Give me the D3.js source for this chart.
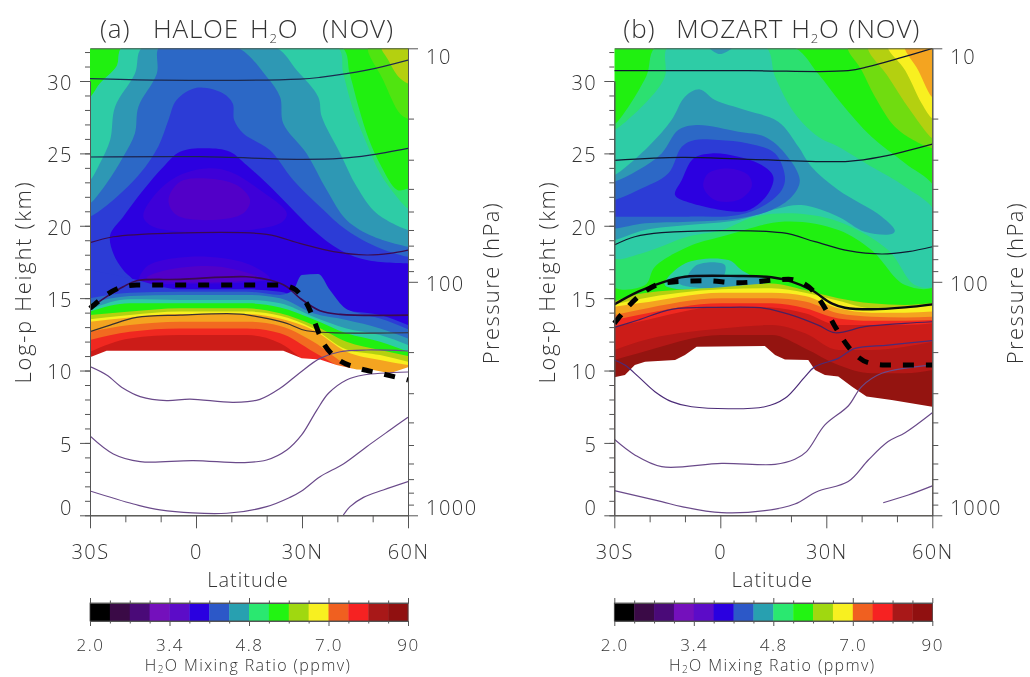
<!DOCTYPE html>
<html>
<head>
<meta charset="utf-8">
<script src="https://cdn.jsdelivr.net/npm/d3@7"></script>
<style>
  body { margin: 0; background: #fff; }
  svg { display: block; filter: blur(0.45px); }
  text { font-family: "Open Sans", sans-serif; font-weight: 300; fill: #333; }
  .axis path, .axis line { stroke: #555; stroke-width: 1; }
  .axis text { font-size: 20px; fill: #333; letter-spacing: 1.5px; }
</style>
</head>
<body>
<div id="chart"></div>
<script>
// Log-p heights (km) on the left, pressure (hPa) on the right, latitude along the bottom
const heightMajor = [0, 5, 10, 15, 20, 25, 30];
const heightMinor = d3.range(0, 33);
const pressureMajor = [10, 100, 1000];
const pressureMinor = [20, 30, 40, 50, 60, 70, 80, 90, 200, 300, 400, 500, 600, 700, 800, 900];
const latMajor = [-30, 0, 30, 60];
const latMinor = [-20, -10, 10, 20, 40, 50];
const latLabels = ["30S", "0", "30N", "60N"];

// colorbar
const barColors = ["#000000", "#3a0a46", "#4a0a78", "#7410bc", "#5c0cc8", "#2a00e0", "#2c58c8", "#28a0b0",
  "#2ae870", "#22f412", "#a0d810", "#f8f020", "#f06020", "#f62222", "#a81818", "#901010"];
const barLabels = ["2.0", "3.4", "4.8", "7.0", "90"];
const barLabelSteps = [0, 4, 8, 12, 16];

// fill colours of the contour levels
const levels = {
  green: "#20f010", mint: "#2ce070", sea: "#2ecca6", teal: "#2e98b4", blue2: "#2c68c6", blue: "#2c3cd6",
  indigo: "#2c00e0", purple1: "#3e00d8", purple2: "#5200c8", lime: "#70dc10", lime2: "#50e410", yg: "#b4d010",
  yellow: "#f8f020", amber: "#f4a420", orange: "#f26a20", red: "#f02820", red2: "#cc1c18",
  red3: "#b41816", red4: "#941410"
};

/* ---- (a) HALOE, closed regions in [lat, km] ---- */
const aMint = [[-20.6,32.4],[-22.5,31],[-27.2,29.83],[-30,28.9],[-31,28.9],[-31,14],[61,14],[61,22.47],[57,22.47],[52.5,24.08],[49,25.92],[46,28.22],[43.5,30.5],[41,32.4]];
const aSea = [[-20.6,32.4],[-22.5,31],[-27.2,29.83],[-30,28.9],[-31,28.9],[-31,14],[61,14],[61,21.2],[60,21.2],[56.8,22],[52.1,23.62],[48.3,25.69],[44.5,27.99],[41.7,30.5],[39.8,32.4]];
const aLime = [[48.8,32.4],[53,30.06],[57.7,27.76],[60,27.4],[61,27.4],[61,32.4]];
const aYg = [[52.5,32.4],[54.4,31.45],[57.3,30.3],[60,29.83],[61,29.8],[61,32.4]];
const aTeal = [[-14.9,32.4],[-17.3,30.5],[-22.9,28.22],[-24.3,25.92],[-27.2,24.31],[-30,23.16],[-31,23.16],[-31,14],[61,14],[61,19.71],[60,19.71],[51.1,20.86],[45.5,22.7],[40.8,25],[35.6,27.53],[34.6,28.9],[28.5,30.75],[21.9,32.4]];
const aBlue2 = [[-10.2,32.4],[-11.1,30.5],[-16.3,28.22],[-17.3,26.38],[-20.6,24.77],[-25.3,22.93],[-30,21.55],[-31,21.55],[-31,14],[61,14],[61,18.55],[60,18.55],[50.2,19.25],[42.6,20.4],[37,22.47],[31.3,25],[24.7,27.07],[23.8,28.9],[20,30.3],[11,32.4]];
const aBlue = [[0.2,29.53],[-5.5,28.68],[-7.8,27.3],[-10.7,25.46],[-15.8,23.62],[-23.4,21.78],[-30,20.63],[-31,20.63],[-31,14],[61,14],[61,17.86],[60,17.86],[52.1,18.44],[42.6,19.71],[35.1,21.32],[27.5,23.16],[20.9,25.23],[13.4,26.38],[10.8,27.3],[10.4,28.45],[7.7,29.14]];
const aIndigo = [[3,25.35],[-4.5,25.11],[-9.2,24.08],[-14.9,22.47],[-20.6,20.63],[-24.3,19.36],[-23.4,18.09],[-20.6,16.94],[-17.3,16.02],[-17,12.5],[61,12.5],[61,17.4],[60,17.4],[48.3,17.63],[40.8,18.32],[33.2,19.71],[26.6,21.32],[20,22.93],[14.3,24.19],[9.6,25.11]];
const aPurple1 = [[3,23.96],[-5.5,23.39],[-12.1,22],[-14.9,20.63],[-12.1,19.94],[4.9,19.59],[23.8,20.17],[25.7,20.86],[18.1,22.47],[9.6,23.73]];
const aPurple2 = [[3,23.27],[-4.5,23.04],[-7.8,21.78],[-5.5,20.74],[4.9,20.4],[13.4,20.86],[15.3,21.78],[11.5,22.81]];
const aLowPurple1 = [[-14,17.17],[-1.7,17.86],[14.3,17.4],[20.9,16.37],[14.3,16.1],[-4.5,16],[-16,16.1]];
const aLowPurple2 = [[-8.3,16.94],[6.8,17.17],[18.1,16.37],[14,16.2],[-4.5,16.1],[-14,16.4]];
const aRegions = [["mint", aMint], ["sea", aSea], ["lime2", aLime], ["yg", aYg], ["teal", aTeal], ["blue2", aBlue2], ["blue", aBlue],
  ["indigo", aIndigo], ["purple1", aPurple1], ["purple2", aPurple2], ["purple1", aLowPurple1], ["purple2", aLowPurple2]];

// (a) upper edge of the moist tropospheric levels, filled down from the curve
const aLats = [-30, -18.7, -4.5, 14.3, 23.8, 33.2, 42.6, 52.1, 60];
const aBump = [-30, -18.7, -4.5, 14.3, 23.8, 27.5, 29.9, 34.6, 37.9, 41.7, 46, 52.1, 60];
const aBands = [
  ["blue", aLats, [16.94,16.37,15.61,15.61,15.45,14.64,14.13,13.83,13.14]],
  ["blue2", aBump, [14.99,15.38,15.45,15.45,15.22,15.56,16.6,16.67,15.56,14.41,13.95,13.6,12.85]],
  ["teal", aLats, [14.64,15.15,15.22,15.22,14.99,13.95,13.49,12.91,12.22]],
  ["sea", aLats, [14.23,14.92,14.87,14.87,14.64,13.72,12.91,12.45,11.76]],
  ["green", aLats, [14.07,14.64,14.64,14.64,14.36,13.54,12.57,11.99,11.3]],
  ["yg", aLats, [13.83,14.07,14.3,14.3,13.95,13.14,11.99,11.42,11.0]],
  ["yellow", aLats, [13.54,13.83,14.07,14.07,13.79,12.91,11.46,11.07,10.61]],
  ["amber", aLats, [13.37,13.67,13.9,13.9,13.6,12.8,11.3,10.73,10.38]],
  ["orange", aLats, [12.68,13.14,13.37,13.37,13.08,11.99,10.38,9.3,9.3]],
  ["red", aLats, [12.11,12.68,12.91,12.91,12.57,11.3,10,9,9]],
  ["red2", aLats, [11.3,12.22,12.45,12.45,11.88,10.2,9,9,9]]
];
// (a) lower limit of the data
const aLimit = [[-30,10.91],[-25.3,11.37],[24.7,11.37],[29.9,10.84],[35.1,10.77],[39.8,10.38],[45.5,10.08],[50.2,10.04],[54.9,9.81],[60,10.22]];

// (a) thin contours
const aLines = [
  [[-30,30.16],[-10.2,30.06],[29.4,30.13],[35.1,30.25],[48.3,30.75],[60,31.45]],
  [[-30,24.75],[1.1,24.77],[29.4,24.59],[40.8,24.65],[49.2,24.88],[60,25.35]],
  [[-30,18.83],[-23.4,19.24],[-8.3,19.48],[20,19.41],[29.4,18.78],[38.9,18.21],[48.3,17.98],[54.9,18.09],[60,18.32]],
  [[-30,14.3],[-25.3,15.1],[-20.6,15.79],[-16.8,16.2],[-4.5,16.3],[14.3,16.48],[20.9,16.25],[25.7,15.79],[29.4,15],[35.1,14.13],[40.8,13.88],[60,13.83]],
  [[-30,12.68],[-24.3,13.14],[-16.8,13.67],[-4.5,13.83],[12.5,13.9],[20,13.6],[25.7,13.26],[31.3,12.75],[60,12.61]],
  [[-30,10.27],[-25.3,9.69],[-20.6,8.77],[-15.8,8.2],[-8.3,7.92],[-1.7,8.03],[10.6,7.8],[18.1,8.01],[23.8,8.77],[29.4,9.85],[35.1,10.84],[40.8,11.3],[48.3,11.42],[60,11.35]],
  [[-30,5.48],[-23.4,4.24],[-15.8,3.71],[-0.8,3.78],[13.4,3.64],[20,3.82],[25.7,4.51],[29.9,5.55],[34.2,7.27],[37.5,8.43],[42.6,9.35],[47.4,9.69],[60,9.9]],
  [[-30,1.68],[-17.7,0.78],[-10.2,0.37],[8.7,0.14],[20,0.6],[26.6,1.24],[29.9,1.68],[35.1,2.67],[41.7,3.55],[48.3,4.74],[54.9,5.89],[60,6.77]],
  [[41.7,0.02],[43.6,0.6],[47.4,1.24],[53,1.75],[60,2.33]]
];
const aDashed = [[-30,14.3],[-20.6,15.79],[-16.8,15.9],[23.8,15.9],[27.5,15.68],[31.3,14.64],[36.1,11.88],[39.8,10.84],[45.5,10.2],[52.1,9.81],[60,9.35]];

/* ---- (b) MOZART ---- */
const bMint = [[-18,32.4],[-21,30.3],[-30,27],[-31,27],[-31,15.9],[-21.3,15.9],[-18.5,17.17],[-9.1,18.55],[0.4,19.25],[18.3,20.29],[33.4,19.71],[42.8,18.32],[52.3,15.9],[61,15.9],[61,22.47],[52.3,24.31],[42.8,26.15],[34.3,28.45],[27.7,30.5],[20.2,32.4]];
const bSea = [[-14.7,32.4],[-15.7,30.3],[-20.4,28.68],[-30,26.61],[-31,26.61],[-31,17.86],[-22.3,18.09],[-9.1,19.25],[0.4,19.71],[9.8,20.63],[20.2,20.86],[33.4,20.29],[47.5,18.32],[55.1,15.9],[61,15.9],[61,20.86],[52.3,22.7],[42.8,24.08],[33.4,25.46],[27.7,26.15],[21.1,27.76],[15.5,30.3],[12.6,32.4]];
const bSeaLow = [[-15.7,15.9],[-10,17.4],[2.3,17.63],[6,16.94],[12.6,15.9]];
const bTealLow = [[-9.5,16.14],[-6.7,17.29],[1.3,17.29],[-0.1,16.14]];
const bTealUnder = [[-12.4,16.3],[12.6,16.3],[11.7,15.9],[-10.9,15.9]];
const bTealTop = [[-3.4,32.4],[-0.1,31.86],[3.7,32.4]];
const bTeal = [[-5.8,29.42],[-10,28.91],[-13.8,27.3],[-20.4,25.46],[-30,23.5],[-31,23.5],[-31,19],[-30,19.01],[-21.3,19.71],[-9.1,20.05],[5.1,20.4],[16.4,21.2],[23,21.43],[33.4,20.63],[40.9,19.59],[48.5,19.43],[49.4,19.66],[45.7,20.63],[33.4,22.47],[25.8,24.08],[22.1,25.46],[16.4,27.19],[7,27.99],[-1.5,28.68]];
const bBlue2 = [[-6.7,26.96],[-11.9,26.61],[-16.6,25],[-23.2,23.85],[-30,23.04],[-31,23.04],[-31,19.9],[-30,19.82],[-21.3,20.17],[-9.1,20.28],[5.1,20.51],[14.5,21.09],[20.2,22],[22.5,23.16],[18.3,25],[12.6,26.15],[5.1,26.5]];
const bBlue = [[-7.2,25.92],[-10.9,25.46],[-14.7,23.62],[-23.2,22.47],[-30,21.78],[-31,21.78],[-31,20.63],[-30,20.63],[-23.2,20.63],[-9.1,20.63],[5.1,20.74],[12.6,21.43],[17.4,22.47],[18.3,23.39],[15.5,25],[7.9,25.69],[-0.6,25.92]];
const bIndigo = [[-2.5,25],[-7.6,24.65],[-10.9,23.16],[-12.8,22.12],[-8.1,21.55],[6,20.97],[9.8,21.32],[13.6,22.24],[15,23.39],[11.7,24.19],[5.1,24.77]];
const bPurple = [[2.3,23.96],[-3.4,23.62],[-4.8,22.7],[-1.5,21.78],[5.1,21.78],[8.9,22.7],[7.9,23.5]];
const bLime = [[36.2,32.4],[40,30.75],[43.8,28.9],[49.4,26.84],[54.6,25.92],[60,25.35],[61,25.35],[61,32.4]];
const bYg = [[41.9,32.4],[47.5,30.3],[53.7,27.99],[60,26.04],[61,26],[61,32.4]];
const bYellow = [[47.5,32.4],[52.3,30.75],[57,28.45],[60,27.42],[61,27.4],[61,32.4]];
const bAmber = [[52.3,32.4],[56,30.75],[60,28.9],[61,28.9],[61,32.4]];
const bRegions = [["mint", bMint], ["sea", bSea], ["sea", bSeaLow], ["teal", bTealLow], ["teal", bTealUnder], ["teal", bTealTop],
  ["teal", bTeal], ["blue2", bBlue2], ["blue", bBlue], ["indigo", bIndigo], ["purple1", bPurple],
  ["lime", bLime], ["yg", bYg], ["yellow", bYellow], ["amber", bAmber]];

const bLats = [-30, -23.2, 0.4, 14.5, 24, 33.4, 42.8, 52.3, 60];
const bBands = [
  ["yg", bLats, [14.76,15.29,15.75,16.02,15.56,14.99,14.64,14.53,14.64]],
  ["yellow", bLats, [14.57,14.92,15.61,15.68,15.38,14.82,14.3,14.36,14.46]],
  ["amber", bLats, [14.41,14.64,15.38,15.38,15.15,14.3,14,14,14.07]],
  ["orange", bLats, [13.83,14.18,14.99,14.99,14.76,13.95,13.72,13.67,13.72]],
  ["red", bLats, [13.49,13.83,14.64,14.64,14.3,13.6,13.44,13.44,13.49]],
  ["red2", bLats, [13.03,13.37,14.41,14.36,13.95,13.14,13.14,13.14,13.26]],
  ["red3", bLats, [11.42,11.99,12.91,13.14,12.57,11.42,11.42,11.65,11.99]],
  ["red4", bLats, [10.73,11.19,12.45,12.45,11.53,10.38,9.81,9.81,10.04]]
];
const bLimit = [[-30,9.53],[-27,9.69],[-24.2,10.38],[-21.3,10.61],[-12.8,10.73],[-10,11.07],[-6.7,11.65],[12.6,11.69],[15.5,11.07],[18.3,10.77],[24.9,10.73],[26.8,10.04],[29.6,9.69],[33.4,9.58],[37.2,8.89],[41.4,8.2],[48.5,7.96],[60,7.5]];

const bLines = [
  [[-30,30.71],[7.9,30.71],[36.2,30.71],[41.9,30.99],[50.4,31.56],[60,32.25]],
  [[-30,24.52],[-10.9,24.72],[7.9,24.59],[36.2,24.45],[45.7,24.77],[60,25.64]],
  [[-30,18.67],[-24.2,19.24],[-16.6,19.52],[17.4,19.52],[26.8,18.9],[36.2,18.28],[45.7,18.05],[53.2,18.21],[60,18.55]],
  [[-30,14.57],[-23.2,15.45],[-15.7,16.14],[-10,16.48],[5.1,16.53],[14.5,16.44],[20.2,16.14],[25.8,15.56],[31.5,14.64],[35.3,14.34],[42.8,14.23],[52.3,14.36],[60,14.57]],
  [[-30,12.98],[-23.2,13.49],[-13.8,14.23],[0.4,14.36],[12.6,14.3],[20.2,13.83],[27.7,13.14],[32.5,12.61],[40.9,13.03],[52.3,13.26],[60,13.37]],
  [[-30,10.73],[-27,10.38],[-23.2,9.58],[-18.5,8.54],[-13.8,7.85],[-8.1,7.5],[12.6,7.5],[18.3,8.08],[24,9.58],[26.8,10.27],[33.4,10.84],[38.1,11.53],[47.5,11.76],[60,12.06]],
  [[-30,5.25],[-24.2,4.17],[-16.6,3.36],[0.4,3.59],[15.5,3.52],[21.1,3.87],[24.4,4.4],[29.6,6.24],[36.2,7.55],[40,8.89],[45.7,9.81],[60,10.38]],
  [[-30,1.7],[-16.6,0.94],[-10.9,0.6],[0.4,0.18],[12.6,0.32],[21.1,0.78],[27.3,1.63],[36.2,2.33],[41.9,3.82],[47.5,5.09],[52.3,5.71],[60,7.09]],
  [[46.1,0.87],[53.2,1.4],[60,2.03]]
];
const bDashed = [[-30,13.26],[-23.2,15.1],[-15.7,16.07],[-4.4,16.21],[5.1,16.07],[19.3,16.3],[25,15.79],[28.8,14.64],[32.5,13.03],[36.2,11.65],[41.9,10.54],[46.6,10.38],[60,10.38]];

// line colours per contour, top to bottom
const aLineColors = ["#1c2a50", "#1c2450", "#3c0a50", "#3c0a50", "#3a3030", "#6a4a8a", "#6a4a8a", "#6a4a8a", "#6a4a8a"];
const bLineColors = ["#101830", "#101830", "#101830", "#0a0a10", "#4a2060", "#4c2c78", "#6a4a8a", "#6a4a8a", "#6a4a8a"];

const width = 1030;
const height = 677;
const plotTop = 48.3;
const plotBottom = 515.3;
const plotWidth = 318;

const svg = d3.select("#chart").append("svg").attr("width", width).attr("height", height);

const y = d3.scaleLinear().domain([0, 30]).range([plotBottom, 81]);
const p = d3.scaleLog().domain([1000, 10]).range([plotBottom, plotTop]);

function drawPanel(id, left, titleParts, regions, bands, limit, lines, lineColors, dashed, tropoWidth) {
  const x = d3.scaleLinear().domain([-30, 60]).range([left, left + plotWidth]);
  const g = svg.append("g");

  g.append("clipPath").attr("id", "clip" + id).append("rect")
    .attr("x", left).attr("y", plotTop).attr("width", plotWidth).attr("height", plotBottom - plotTop);

  const plot = g.append("g").attr("clip-path", `url(#clip${id})`);

  // base level
  plot.append("rect").attr("x", left).attr("y", plotTop)
    .attr("width", plotWidth).attr("height", plotBottom - plotTop).attr("fill", levels.green);

  const region = d3.line().x(d => x(d[0])).y(d => y(d[1])).curve(d3.curveCatmullRomClosed.alpha(0.5));
  plot.selectAll(".region").data(regions).enter().append("path")
    .attr("class", "region")
    .attr("fill", d => levels[d[0]])
    .attr("d", d => region(d[1]));

  const band = d3.area().x(d => x(d[0])).y0(y(0)).y1(d => y(d[1])).curve(d3.curveMonotoneX);
  plot.selectAll(".band").data(bands).enter().append("path")
    .attr("class", "band")
    .attr("fill", d => levels[d[0]])
    .attr("d", d => band(d3.zip(d[1], d[2])));

  // no data below the limit
  plot.append("path")
    .attr("fill", "#fff")
    .attr("d", d3.area().x(d => x(d[0])).y0(y(0)).y1(d => y(d[1])).curve(d3.curveLinear)(limit));

  const contour = d3.line().x(d => x(d[0])).y(d => y(d[1])).curve(d3.curveCatmullRom.alpha(0.5));
  plot.selectAll(".contour").data(lines).enter().append("path")
    .attr("class", "contour")
    .attr("fill", "none")
    .attr("stroke", (d, i) => lineColors[i])
    .attr("stroke-width", (d, i) => i == 3 ? tropoWidth : 1.2)
    .attr("d", contour);

  g.append("path")
    .attr("fill", "none")
    .attr("stroke", "#000")
    .attr("stroke-width", 5)
    .attr("stroke-dasharray", "11,12")
    .attr("d", d3.line().x(d => x(d[0])).y(d => y(d[1])).curve(d3.curveMonotoneX)(dashed));

  // left axis
  g.append("g").attr("class", "axis").attr("transform", `translate(${left},0)`)
    .call(d3.axisLeft(y).tickValues(heightMinor).tickSize(5).tickFormat("").tickSizeOuter(0));
  const leftAxis = g.append("g").attr("class", "axis").attr("transform", `translate(${left},0)`)
    .call(d3.axisLeft(y).tickValues(heightMajor).tickSize(10).tickPadding(7).tickSizeOuter(0));
  // the 0 label sits above its tick
  leftAxis.selectAll(".tick text").filter(d => d == 0).attr("dy", "-0.02em");
  leftAxis.selectAll(".tick text").filter(d => d > 0).attr("dy", "0.42em");

  // right axis
  g.append("g").attr("class", "axis").attr("transform", `translate(${left + plotWidth},0)`)
    .call(d3.axisRight(p).tickValues(pressureMinor).tickSize(6).tickFormat("").tickSizeOuter(0));
  const rightAxis = g.append("g").attr("class", "axis").attr("transform", `translate(${left + plotWidth},0)`)
    .call(d3.axisRight(p).tickValues(pressureMajor).tickSize(10).tickPadding(8).tickFormat(d3.format("d")).tickSizeOuter(0));
  rightAxis.selectAll(".tick text").attr("dy", d => d == 10 ? "0.76em" : d == 1000 ? "-0.02em" : "0.42em");

  // bottom axis and top border
  g.append("g").attr("class", "axis").attr("transform", `translate(0,${plotBottom})`)
    .call(d3.axisBottom(x).tickValues(latMinor).tickSize(7).tickFormat("").tickSizeOuter(0));
  g.append("g").attr("class", "axis").attr("transform", `translate(0,${plotBottom})`)
    .call(d3.axisBottom(x).tickValues(latMajor).tickSize(13).tickPadding(17).tickFormat((d, i) => latLabels[i]).tickSizeOuter(0));
  g.append("g").attr("class", "axis").attr("transform", `translate(0,${plotTop})`)
    .call(d3.axisTop(x).tickValues([]).tickSizeOuter(0));

  g.selectAll(".axis .domain").attr("fill", "none");

  // title
  const title = g.append("text").attr("y", 38).attr("font-size", 26).attr("letter-spacing", 0.8);
  titleParts.forEach(part => {
    title.append("tspan").attr("x", left + part.dx).text(part.text);
    if (part.sub) {
      title.append("tspan").attr("font-size", 13).attr("dy", 5).text(part.sub);
      title.append("tspan").attr("dy", -5).text(part.tail);
    }
  });

  // axis titles
  g.append("text").attr("transform", `translate(${left - 59},282) rotate(-90)`)
    .attr("text-anchor", "middle").attr("font-size", 22).attr("letter-spacing", 1.7).text("Log-p Height (km)");
  g.append("text").attr("transform", `translate(${left + plotWidth + 91},283) rotate(-90)`)
    .attr("text-anchor", "middle").attr("font-size", 22).attr("letter-spacing", 1.4).text("Pressure (hPa)");
  g.append("text").attr("x", left + 158).attr("y", 587)
    .attr("text-anchor", "middle").attr("font-size", 20).attr("letter-spacing", 1).text("Latitude");

  // colorbar
  const barX = d3.scaleLinear().domain([0, 16]).range([left, left + plotWidth]);
  const barTop = 603;
  const barBottom = 621;
  g.selectAll(".swatch").data(barColors).enter().append("rect")
    .attr("class", "swatch")
    .attr("x", (d, i) => barX(i))
    .attr("y", barTop)
    .attr("width", barX(1) - barX(0) + 0.4)
    .attr("height", barBottom - barTop)
    .attr("fill", d => d);
  g.append("rect").attr("x", left).attr("y", barTop).attr("width", plotWidth).attr("height", barBottom - barTop)
    .attr("fill", "none").attr("stroke", "#444").attr("stroke-width", 0.8);

  const smallSteps = d3.range(0, 17).filter(d => !barLabelSteps.includes(d));
  g.append("g").attr("class", "axis").attr("transform", `translate(0,${barTop})`)
    .call(d3.axisTop(barX).tickValues(smallSteps).tickSize(2.5).tickFormat("").tickSizeOuter(0));
  g.append("g").attr("class", "axis").attr("transform", `translate(0,${barTop})`)
    .call(d3.axisTop(barX).tickValues(barLabelSteps).tickSize(5).tickFormat("").tickSizeOuter(0));
  g.append("g").attr("class", "axis").attr("transform", `translate(0,${barBottom})`)
    .call(d3.axisBottom(barX).tickValues(smallSteps).tickSize(2.5).tickFormat("").tickSizeOuter(0));
  const barAxis = g.append("g").attr("class", "axis").attr("transform", `translate(0,${barBottom})`)
    .call(d3.axisBottom(barX).tickValues(barLabelSteps).tickSize(5).tickPadding(13)
      .tickFormat((d, i) => barLabels[i]).tickSizeOuter(0));
  barAxis.selectAll("text").style("font-size", "17px");

  // colorbar caption
  const caption = g.append("text").attr("x", left + 158).attr("y", 671)
    .attr("text-anchor", "middle").attr("font-size", 16).attr("letter-spacing", 1.4);
  caption.append("tspan").text("H");
  caption.append("tspan").attr("font-size", 10).attr("dy", 2).text("2");
  caption.append("tspan").attr("dy", -2).text("O Mixing Ratio (ppmv)");
}

drawPanel("a", 90, [
  {dx: 10, text: "(a)"},
  {dx: 63, text: "HALOE"},
  {dx: 160, text: "H", sub: "2", tail: "O"},
  {dx: 232, text: "(NOV)"}
], aRegions, aBands, aLimit, aLines, aLineColors, aDashed, 1.6);

drawPanel("b", 614.3, [
  {dx: 9, text: "(b)"},
  {dx: 62, text: "MOZART"},
  {dx: 177, text: "H", sub: "2", tail: "O"},
  {dx: 234, text: "(NOV)"}
], bRegions, bBands, bLimit, bLines, bLineColors, bDashed, 2.4);
</script>
</body>
</html>
